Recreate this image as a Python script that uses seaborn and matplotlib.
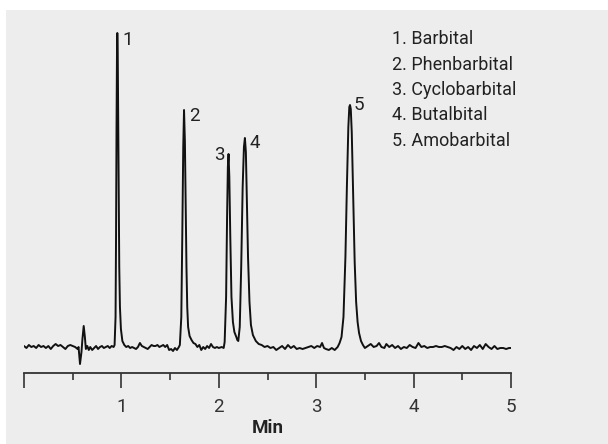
import numpy as np
import pandas as pd
import matplotlib
matplotlib.use("Agg")
import matplotlib.pyplot as plt
import seaborn as sns
from matplotlib.patches import Rectangle
from matplotlib.ticker import MultipleLocator, FuncFormatter

# trace (time in min, detector signal in arbitrary units)
time_min = [
    0.00, 0.025, 0.05, 0.075, 0.10, 0.125, 0.15, 0.175, 0.20, 0.225, 0.25, 0.275,
    0.30, 0.325, 0.35, 0.375, 0.40, 0.425, 0.45, 0.475, 0.50, 0.525, 0.55,
    0.56, 0.575, 0.59, 0.60, 0.613, 0.625, 0.635, 0.65, 0.665, 0.68, 0.70, 0.72,
    0.74, 0.76, 0.78, 0.80, 0.82, 0.84, 0.86, 0.88, 0.90, 0.92,
    0.93, 0.94, 0.945, 0.95, 0.955, 0.958, 0.962, 0.967, 0.972, 0.978, 0.985,
    0.995, 1.01, 1.03, 1.05,
    1.07, 1.09, 1.11, 1.13, 1.15, 1.17, 1.19, 1.21, 1.23, 1.25, 1.27, 1.29,
    1.31, 1.33, 1.35, 1.37, 1.39, 1.41, 1.43, 1.45, 1.47, 1.49, 1.51, 1.53,
    1.55, 1.57, 1.59,
    1.60, 1.615, 1.625, 1.635, 1.643, 1.652, 1.66, 1.668, 1.676, 1.685, 1.70,
    1.72, 1.74, 1.76, 1.78, 1.80, 1.82, 1.84, 1.86, 1.88, 1.90, 1.92, 1.94,
    1.96, 1.98, 2.00, 2.03, 2.05,
    2.06, 2.075, 2.085, 2.093, 2.10, 2.108, 2.118, 2.13, 2.145, 2.16, 2.18, 2.19,
    2.20, 2.215, 2.23, 2.245, 2.258, 2.268, 2.278, 2.29, 2.30, 2.315, 2.33,
    2.35, 2.38, 2.41, 2.44, 2.47,
    2.50, 2.53, 2.56, 2.59, 2.62, 2.65, 2.68, 2.71, 2.74, 2.77, 2.80, 2.83,
    2.86, 2.89, 2.92, 2.95, 2.98, 3.01, 3.04, 3.06, 3.08, 3.10, 3.13, 3.16,
    3.19, 3.22,
    3.24, 3.26, 3.28, 3.30, 3.315, 3.33, 3.34, 3.347, 3.355, 3.365, 3.38,
    3.395, 3.41, 3.425, 3.44, 3.46, 3.48, 3.50,
    3.53, 3.56, 3.59, 3.62, 3.645, 3.67, 3.70, 3.72, 3.75, 3.78, 3.81, 3.84,
    3.87, 3.90, 3.93, 3.96, 3.99, 4.02, 4.05, 4.08, 4.11, 4.14, 4.17, 4.20,
    4.23, 4.26, 4.29, 4.32, 4.35, 4.38, 4.41, 4.44, 4.47, 4.50, 4.53, 4.56,
    4.59, 4.62, 4.65, 4.68, 4.71, 4.74, 4.77, 4.80, 4.83, 4.86, 4.89, 4.92,
    4.95, 4.98, 5.00,
]
signal = [
    1, -1, 2, 0, 1, -1, 2, 0, 1, -1, 1, -2,
    1, 3, 1, 2, 0, -2, 1, 2, 1, 0, -2,
    0, -17, -5, 8, 21, 10, -2, 1, -3, 0, -3, -1,
    1, -2, 0, 1, -1, 0, 1, -1, 1, 0,
    2, 30, 110, 220, 300, 314, 300, 230, 150, 80, 40,
    18, 6, 2, 0,
    1, -1, 0, -1, -2, 0, 4, 1, 0, -1, -2, 0,
    2, 1, 1, 2, 0, 1, 2, 0, 2, -3, -2, -4,
    -1, -3, 0,
    2, 30, 110, 200, 237, 205, 140, 80, 40, 20, 11,
    7, 4, 3, 0, 2, -3, 0, -2, 1, -1, 3, 0,
    -1, 0, -1, 0, -1,
    5, 50, 130, 180, 193, 170, 110, 50, 25, 15, 10, 7,
    6, 20, 80, 160, 200, 209, 195, 140, 90, 45, 22,
    12, 6, 3, 2, 0,
    1, -1, 0, -3, -1, 1, -2, 2, -1, 1, -2, -1,
    -2, -1, 0, 1, -1, 1, 0, 4, -1, -2, -3, -1,
    -3, 0,
    4, 10, 30, 90, 160, 220, 240, 242, 238, 215, 150,
    85, 45, 25, 14, 6, 2, -1,
    1, 3, 0, 1, 4, 0, -1, 3, 0, 2, -1, 1,
    -2, 0, -1, 2, 0, -1, 4, 0, 1, -1, 0, 0,
    1, 0, 0, 1, 0, -1, -3, 0, -2, 1, -2, 0,
    -3, 1, -1, 2, -2, 3, 0, -2, 1, -2, -1, -1,
    -2, -1, -1,
]

peak_numbers = ["1", "2", "3", "4", "5"]
peak_label_x = [1.065, 1.745, 2.01, 2.37, 3.44]
peak_label_y = [307, 231, 192, 204, 242]
compounds = ["Barbital", "Phenbarbital", "Cyclobarbital", "Butalbital", "Amobarbital"]

sns.set_theme(style="white")
plt.rcParams["font.family"] = ["Roboto", "DejaVu Sans"]

fig = plt.figure(figsize=(6.08, 4.44), dpi=100)
fig.patches.append(Rectangle((6 / 608, 0), 1, 1 - 10 / 444, transform=fig.transFigure,
                             facecolor="#ededed", edgecolor="none", zorder=-5))

ax = fig.add_axes([24 / 608, 1 - 373 / 444, 487 / 608, 353 / 444])
ax.set_facecolor("none")
ax.set_zorder(2)

df = pd.DataFrame({"Min": time_min, "signal": signal})
sns.lineplot(data=df, x="Min", y="signal", ax=ax, color="#111111", lw=1.4,
             estimator=None, sort=False)

ax.set_xlim(0, 5)
ax.set_ylim(-26, 327)
for side in ["top", "left", "right"]:
    ax.spines[side].set_visible(False)
ax.spines["bottom"].set_color("#333333")
ax.spines["bottom"].set_linewidth(1.3)
ax.set_yticks([])
ax.set_ylabel("")
ax.xaxis.set_major_locator(MultipleLocator(1))
ax.xaxis.set_minor_locator(MultipleLocator(0.5))
ax.xaxis.set_major_formatter(FuncFormatter(lambda v, p: "" if v == 0 else f"{v:.0f}"))
ax.tick_params(axis="x", which="major", bottom=True, length=11, width=1.2,
               color="#333333", pad=7, labelsize=13.5, labelcolor="#333333")
ax.tick_params(axis="x", which="minor", bottom=True, length=5, width=1.2,
               color="#333333")
ax.set_xlabel("Min", fontsize=13.5, fontweight="bold", color="#222222", labelpad=2)

for num, lx, ly in zip(peak_numbers, peak_label_x, peak_label_y):
    ax.text(lx, ly, num, fontsize=13.5, color="#222222", ha="center", va="center")

for i, (num, name) in enumerate(zip(peak_numbers, compounds)):
    fig.text(392 / 608, 1 - (39 + 25.5 * i) / 444, f"{num}. {name}", fontsize=13,
             color="#222222", ha="left", va="center")

fig.savefig("out.png", dpi=100, facecolor="white")
